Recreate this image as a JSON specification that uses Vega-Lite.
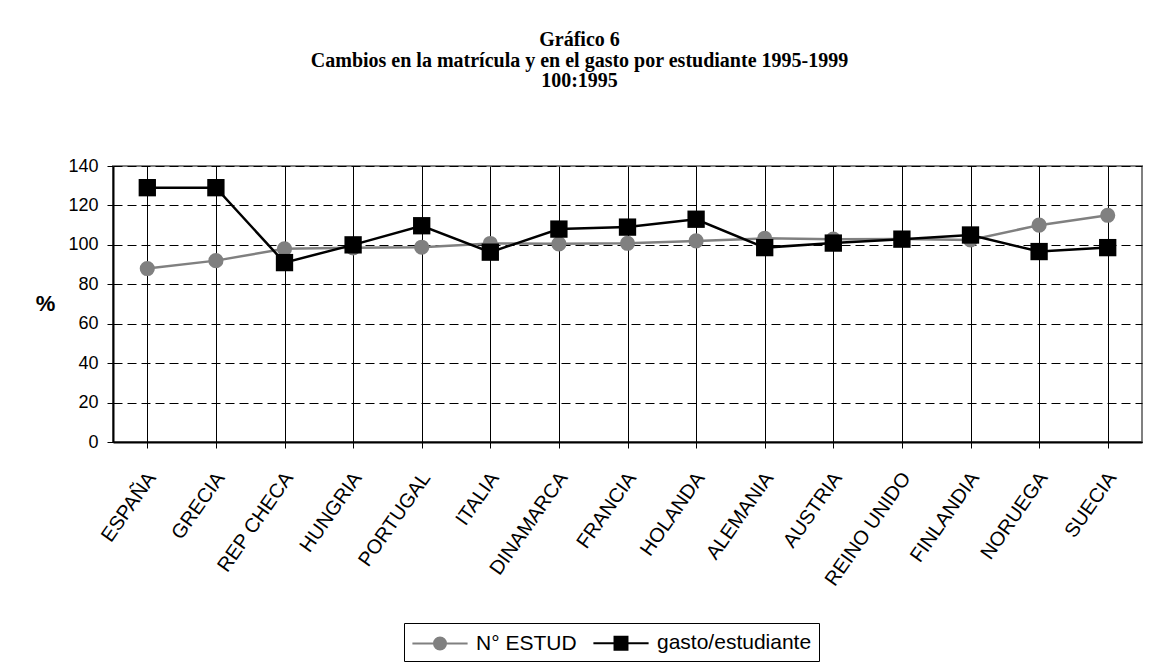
{
  "$schema": "https://vega.github.io/schema/vega-lite/v6.json",
  "autosize": "none",
  "width": 1029,
  "height": 276,
  "padding": {"left": 113, "top": 166, "right": 10, "bottom": 222},
  "background": "white",
  "title": {
    "text": ["Gráfico 6", "Cambios en la matrícula y en el gasto por estudiante 1995-1999", "100:1995"],
    "font": "Liberation Serif",
    "fontSize": 20,
    "fontWeight": "bold",
    "color": "black",
    "lineHeight": 20.5,
    "anchor": "middle",
    "dx": -48,
    "offset": 66
  },
  "data": {
    "values": [
      {"pais": "ESPAÑA", "serie": "N° ESTUD", "valor": 88},
      {"pais": "GRECIA", "serie": "N° ESTUD", "valor": 92},
      {"pais": "REP CHECA", "serie": "N° ESTUD", "valor": 98},
      {"pais": "HUNGRIA", "serie": "N° ESTUD", "valor": 98.5},
      {"pais": "PORTUGAL", "serie": "N° ESTUD", "valor": 98.8},
      {"pais": "ITALIA", "serie": "N° ESTUD", "valor": 100.7},
      {"pais": "DINAMARCA", "serie": "N° ESTUD", "valor": 100.5},
      {"pais": "FRANCIA", "serie": "N° ESTUD", "valor": 100.8},
      {"pais": "HOLANDA", "serie": "N° ESTUD", "valor": 102},
      {"pais": "ALEMANIA", "serie": "N° ESTUD", "valor": 103.3},
      {"pais": "AUSTRIA", "serie": "N° ESTUD", "valor": 102.9},
      {"pais": "REINO UNIDO", "serie": "N° ESTUD", "valor": 103},
      {"pais": "FINLANDIA", "serie": "N° ESTUD", "valor": 102.5},
      {"pais": "NORUEGA", "serie": "N° ESTUD", "valor": 110},
      {"pais": "SUECIA", "serie": "N° ESTUD", "valor": 115},
      {"pais": "ESPAÑA", "serie": "gasto/estudiante", "valor": 129},
      {"pais": "GRECIA", "serie": "gasto/estudiante", "valor": 129},
      {"pais": "REP CHECA", "serie": "gasto/estudiante", "valor": 91},
      {"pais": "HUNGRIA", "serie": "gasto/estudiante", "valor": 100},
      {"pais": "PORTUGAL", "serie": "gasto/estudiante", "valor": 109.7},
      {"pais": "ITALIA", "serie": "gasto/estudiante", "valor": 96.3},
      {"pais": "DINAMARCA", "serie": "gasto/estudiante", "valor": 108},
      {"pais": "FRANCIA", "serie": "gasto/estudiante", "valor": 109},
      {"pais": "HOLANDA", "serie": "gasto/estudiante", "valor": 113},
      {"pais": "ALEMANIA", "serie": "gasto/estudiante", "valor": 98.6},
      {"pais": "AUSTRIA", "serie": "gasto/estudiante", "valor": 100.9},
      {"pais": "REINO UNIDO", "serie": "gasto/estudiante", "valor": 102.9},
      {"pais": "FINLANDIA", "serie": "gasto/estudiante", "valor": 105},
      {"pais": "NORUEGA", "serie": "gasto/estudiante", "valor": 96.6},
      {"pais": "SUECIA", "serie": "gasto/estudiante", "valor": 98.6}
    ]
  },
  "encoding": {
    "x": {
      "field": "pais",
      "type": "nominal",
      "sort": null,
      "scale": {"paddingInner": 0, "paddingOuter": 0},
      "axis": {
        "title": null,
        "bandPosition": 0,
        "grid": true,
        "gridColor": "black",
        "gridWidth": 1,
        "domainColor": "black",
        "domainWidth": 2,
        "tickColor": "black",
        "tickSize": 6,
        "labelAngle": -55,
        "labelAlign": "right",
        "labelBaseline": "middle",
        "labelPadding": 26,
        "labelOffset": 4,
        "labelFont": "Liberation Sans",
        "labelFontSize": 20,
        "labelColor": "black",
        "labelBound": false,
        "labelOverlap": false
      }
    },
    "y": {
      "field": "valor",
      "type": "quantitative",
      "scale": {"domain": [0, 140], "nice": false, "zero": true},
      "axis": {
        "values": [0, 20, 40, 60, 80, 100, 120, 140],
        "title": "%",
        "titleAngle": 0,
        "titleFont": "Liberation Sans",
        "titleFontSize": 22,
        "titleFontWeight": "bold",
        "titleColor": "black",
        "titleX": -68,
        "titleY": 137,
        "titleAlign": "center",
        "titleBaseline": "middle",
        "grid": true,
        "gridColor": "black",
        "gridDash": [9, 5],
        "gridWidth": 1,
        "domainColor": "black",
        "domainWidth": 2,
        "tickColor": "black",
        "tickSize": 6,
        "labelFont": "Liberation Sans",
        "labelFontSize": 18,
        "labelColor": "black",
        "labelPadding": 9
      }
    },
    "color": {
      "field": "serie",
      "type": "nominal",
      "scale": {"domain": ["N° ESTUD", "gasto/estudiante"], "range": ["#808080", "#000000"]},
      "legend": {
        "title": null,
        "orient": "none",
        "legendX": 291,
        "legendY": 457,
        "direction": "horizontal",
        "strokeColor": "black",
        "padding": 7,
        "labelFont": "Liberation Sans",
        "labelFontSize": 21,
        "labelColor": "black",
        "symbolSize": 576,
        "symbolOffset": 16,
        "labelOffset": 23,
        "columnPadding": 12,
        "encode": {
          "symbols": {
            "update": {
              "shape": {"signal": "datum.value === 'gasto/estudiante' ? 'M-2.3,0H2.3M-0.54,-0.54H0.54V0.54H-0.54Z' : 'M-2.3,0H2.3M-0.5,0A0.5,0.5 0 1,0 0.5,0A0.5,0.5 0 1,0 -0.5,0Z'"},
              "stroke": {"signal": "datum.value === 'gasto/estudiante' ? '#000000' : '#808080'"},
              "fill": {"signal": "datum.value === 'gasto/estudiante' ? '#000000' : '#808080'"},
              "strokeWidth": {"value": 2},
              "opacity": {"value": 1}
            }
          }
        }
      }
    }
  },
  "layer": [
    {
      "transform": [{"filter": "datum.serie === 'N° ESTUD'"}],
      "mark": {"type": "line", "strokeWidth": 2.5}
    },
    {
      "transform": [{"filter": "datum.serie === 'N° ESTUD'"}],
      "mark": {"type": "point", "shape": "circle", "filled": true, "opacity": 1, "size": 230}
    },
    {
      "transform": [{"filter": "datum.serie === 'gasto/estudiante'"}],
      "mark": {"type": "line", "strokeWidth": 2.5}
    },
    {
      "transform": [{"filter": "datum.serie === 'gasto/estudiante'"}],
      "mark": {"type": "point", "shape": "square", "filled": true, "opacity": 1, "size": 300}
    }
  ],
  "config": {
    "view": {"stroke": "#808080", "strokeWidth": 2},
    "axis": {"gridOpacity": 1}
  }
}
